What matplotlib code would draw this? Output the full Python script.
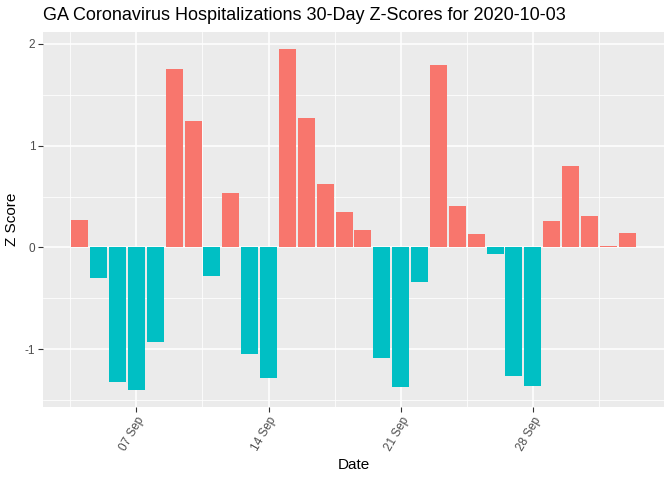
import numpy as np
import pandas as pd
import matplotlib
matplotlib.use("Agg")
import matplotlib.pyplot as plt
import matplotlib.dates as mdates
from matplotlib.ticker import MultipleLocator

plt.rcParams["font.family"] = ["Liberation Sans", "DejaVu Sans"]
plt.rcParams["axes.unicode_minus"] = False

# ── Data ────────────────────────────────────────────────────────────────
dates = pd.date_range("2020-09-04", "2020-10-03", freq="D")
z_scores = [
    0.27, -0.30, -1.32, -1.40, -0.93, 1.75, 1.24, -0.28, 0.54, -1.05,
    -1.28, 1.95, 1.27, 0.62, 0.35, 0.17, -1.09, -1.37, -0.34, 1.79,
    0.41, 0.13, -0.06, -1.26, -1.36, 0.26, 0.80, 0.31, 0.01, 0.14,
]
tick_dates = pd.to_datetime(["2020-09-07", "2020-09-14", "2020-09-21", "2020-09-28"])

z = np.array(z_scores)
colors = np.where(z > 0, "#F8766D", "#00BFC4")

# ── Plot (ggplot2 look) ────────────────────────────────────────────────
fig = plt.figure(figsize=(6.72, 4.8), dpi=100)
ax = fig.add_axes([43 / 672, 1 - 407 / 480, (664 - 43) / 672, (407 - 32) / 480])

ax.set_facecolor("#EBEBEB")
for s in ax.spines.values():
    s.set_visible(False)

ax.bar(dates, z, width=0.9, color=colors, zorder=3)

# limits with ggplot-style 5% expansion
x0 = mdates.date2num(dates[0]) - 0.45
x1 = mdates.date2num(dates[-1]) + 0.45
pad = (x1 - x0) * 0.05
ax.set_xlim(x0 - pad, x1 + pad)
ypad = (z.max() - z.min()) * 0.05
ax.set_ylim(z.min() - ypad, z.max() + ypad)

ax.set_xticks(tick_dates)
ax.xaxis.set_major_formatter(mdates.DateFormatter("%d %b"))
minor_x = [mdates.date2num(d) - 3.5 for d in tick_dates] + [mdates.date2num(tick_dates[-1]) + 3.5]
ax.set_xticks(minor_x, minor=True)
ax.yaxis.set_major_locator(MultipleLocator(1))
ax.yaxis.set_minor_locator(MultipleLocator(0.5))

ax.grid(which="major", color="white", linewidth=1.1, zorder=0)
ax.grid(which="minor", color="white", linewidth=0.55, zorder=0)
ax.set_axisbelow(True)

ax.tick_params(which="major", length=3.5, width=0.8, color="#333333",
               labelsize=8.5, labelcolor="#4D4D4D", pad=2)
ax.tick_params(which="minor", length=0)
plt.setp(ax.get_xticklabels(), rotation=60, ha="right", rotation_mode="anchor")

ax.set_xlabel("Date", fontsize=11, labelpad=4)
ax.set_ylabel("Z Score", fontsize=11, labelpad=4)
fig.text(43 / 672, 1 - 15 / 480, "GA Coronavirus Hospitalizations 30-Day Z-Scores for 2020-10-03",
         fontsize=13, ha="left", va="center")

fig.savefig("out.png", dpi=100)
